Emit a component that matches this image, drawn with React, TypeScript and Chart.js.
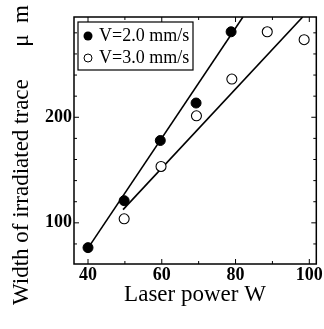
import React, { useEffect, useRef } from "react";
import { Chart, registerables } from "chart.js";

Chart.register(...registerables);

const seriesLabels = ["V=2.0 mm/s", "V=3.0 mm/s"];
const powerA = [40, 49.8, 59.6, 69.3, 78.8];
const widthA = [76.5, 121, 178, 213.5, 281];
const powerB = [49.8, 59.8, 69.4, 79, 88.6, 98.6];
const widthB = [103.8, 153.4, 201.4, 236.2, 281, 273.5];
const fitA = [
  { x: 40, y: 76 },
  { x: 82, y: 295 },
];
const fitB = [
  { x: 49.5, y: 112.5 },
  { x: 98.2, y: 295 },
];
const xTicks = [40, 60, 80, 100];
const yTicks = [100, 200];
const xTitle = "Laser power W";
const yTitle = "Width of irradiated trace";
const yUnit = "μ  m";

const SERIF = "'Liberation Serif', 'Times New Roman', serif";

const decorPlugin = {
  id: "decor",
  afterDraw(chart: any) {
    const ctx = chart.ctx;
    const a = chart.chartArea;
    const xs = chart.scales.x;
    const ys = chart.scales.y;
    ctx.save();
    // frame
    ctx.strokeStyle = "#000";
    ctx.lineWidth = 1.5;
    ctx.strokeRect(a.left, a.top, a.right - a.left, a.bottom - a.top);
    // x ticks (inward), minor every 10
    ctx.lineWidth = 1;
    for (let v = 40; v <= 100; v += 10) {
      const px = xs.getPixelForValue(v);
      const len = v % 20 === 0 ? 5 : 3;
      ctx.beginPath();
      ctx.moveTo(px, a.bottom);
      ctx.lineTo(px, a.bottom - len);
      ctx.moveTo(px, a.top);
      ctx.lineTo(px, a.top + len);
      ctx.stroke();
    }
    for (let v = 80; v <= 280; v += 20) {
      const py = ys.getPixelForValue(v);
      const len = v % 100 === 0 ? 5 : 3;
      ctx.beginPath();
      ctx.moveTo(a.left, py);
      ctx.lineTo(a.left + len, py);
      ctx.moveTo(a.right, py);
      ctx.lineTo(a.right - len, py);
      ctx.stroke();
    }
    // legend
    const lx = 78, ly = 22, lw = 115, lh = 48;
    ctx.fillStyle = "#fff";
    ctx.fillRect(lx, ly, lw, lh);
    ctx.strokeStyle = "#000";
    ctx.lineWidth = 1.2;
    ctx.strokeRect(lx, ly, lw, lh);
    ctx.font = `18px ${SERIF}`;
    ctx.textBaseline = "middle";
    ctx.textAlign = "left";
    ctx.fillStyle = "#000";
    ctx.beginPath();
    ctx.arc(lx + 10, ly + 14, 4.5, 0, Math.PI * 2);
    ctx.fill();
    ctx.fillText(seriesLabels[0], lx + 21, ly + 14);
    ctx.beginPath();
    ctx.fillStyle = "#fff";
    ctx.arc(lx + 10, ly + 36, 4, 0, Math.PI * 2);
    ctx.fill();
    ctx.lineWidth = 1;
    ctx.stroke();
    ctx.fillStyle = "#000";
    ctx.fillText(seriesLabels[1], lx + 21, ly + 36);
    // titles
    ctx.font = `23px ${SERIF}`;
    ctx.textAlign = "center";
    ctx.textBaseline = "alphabetic";
    ctx.fillText(xTitle, 195, 301);
    ctx.save();
    ctx.translate(28, 0);
    ctx.rotate(-Math.PI / 2);
    ctx.textAlign = "left";
    ctx.fillText(yTitle, -305, 0);
    ctx.textAlign = "right";
    ctx.fillText(yUnit, -5, 0);
    ctx.restore();
    ctx.restore();
  },
};

export default function App() {
  const ref = useRef<HTMLCanvasElement>(null);
  useEffect(() => {
    const chart = new Chart(ref.current!, {
      type: "scatter",
      data: {
        datasets: [
          {
            label: seriesLabels[0],
            data: powerA.map((x, i) => ({ x, y: widthA[i] })),
            pointRadius: 5,
            pointBackgroundColor: "#000",
            pointBorderColor: "#000",
            pointBorderWidth: 1,
            showLine: false,
          },
          {
            label: seriesLabels[1],
            data: powerB.map((x, i) => ({ x, y: widthB[i] })),
            pointRadius: 5,
            pointBackgroundColor: "#fff",
            pointBorderColor: "#000",
            pointBorderWidth: 1.1,
            showLine: false,
          },
          {
            label: "fitA",
            data: fitA,
            showLine: true,
            pointRadius: 0,
            borderColor: "#000",
            borderWidth: 1.6,
          },
          {
            label: "fitB",
            data: fitB,
            showLine: true,
            pointRadius: 0,
            borderColor: "#000",
            borderWidth: 1.6,
          },
        ],
      },
      options: {
        animation: false,
        responsive: false,
        layout: { padding: { left: 0, top: 17, right: 7, bottom: 0 } },
        plugins: { legend: { display: false }, tooltip: { enabled: false } },
        scales: {
          x: {
            type: "linear",
            min: 36.2,
            max: 101.9,
            grid: { display: false, drawTicks: false },
            border: { display: false },
            afterBuildTicks: (s: any) => {
              s.ticks = xTicks.map((v) => ({ value: v }));
            },
            afterFit: (s: any) => {
              s.height = 65;
            },
            ticks: {
              padding: 1,
              color: "#000",
              font: { family: SERIF, size: 18, weight: "bold" },
              maxRotation: 0,
              autoSkip: false,
            },
          },
          y: {
            type: "linear",
            min: 61,
            max: 295,
            grid: { display: false, drawTicks: false },
            border: { display: false },
            afterBuildTicks: (s: any) => {
              s.ticks = yTicks.map((v) => ({ value: v }));
            },
            afterFit: (s: any) => {
              s.width = 74;
            },
            ticks: {
              padding: 2,
              color: "#000",
              font: { family: SERIF, size: 18, weight: "bold" },
            },
          },
        },
      },
      plugins: [decorPlugin],
    });
    return () => chart.destroy();
  }, []);
  return (
    <div style={{ position: "fixed", left: 0, top: 0, width: 324, height: 329, background: "#fff" }}>
      <canvas ref={ref} width={324} height={329} />
    </div>
  );
}
